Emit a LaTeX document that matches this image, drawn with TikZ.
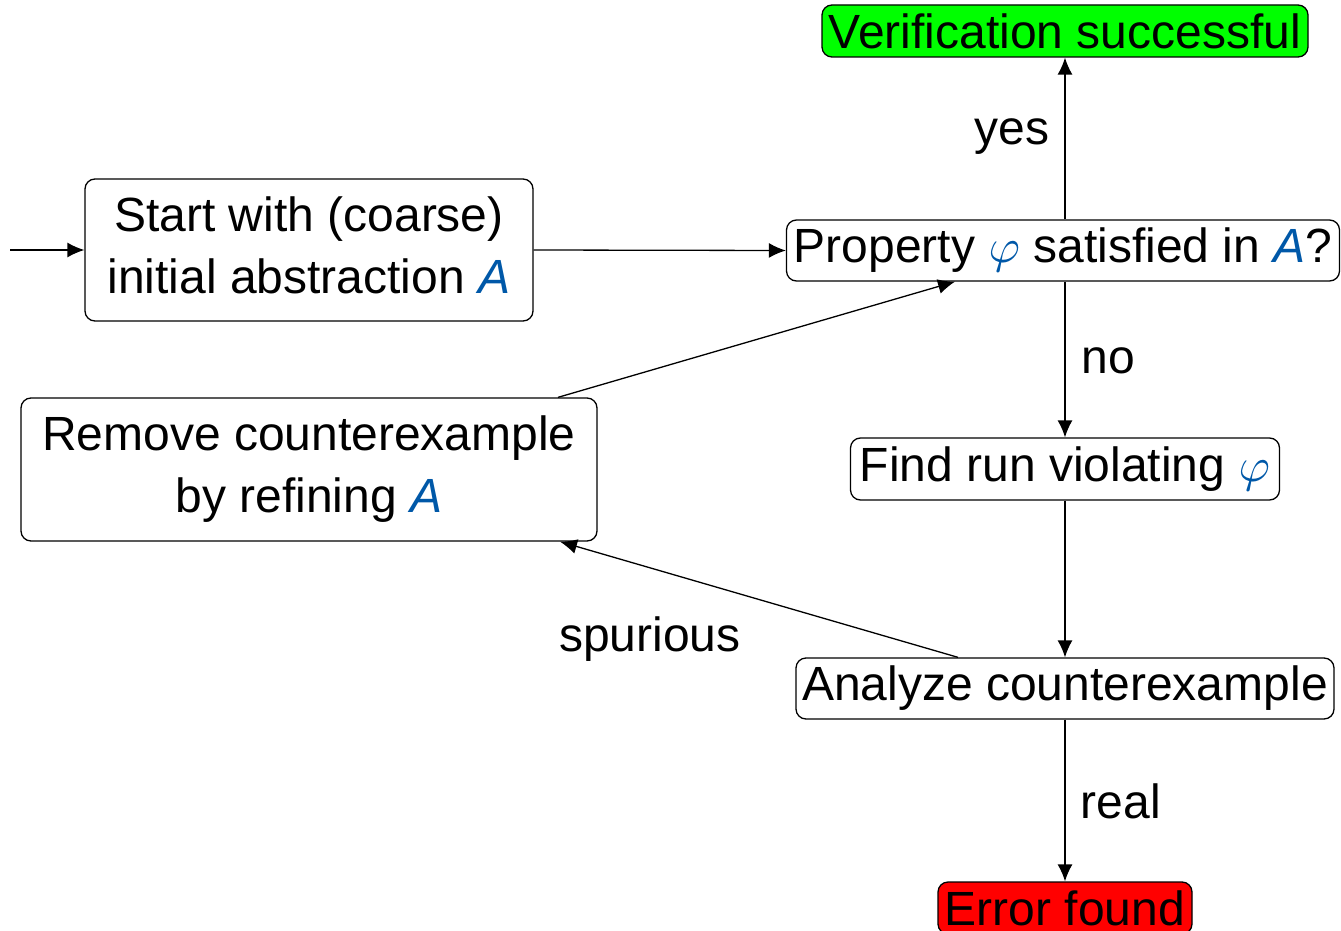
\documentclass[tikz,border=0pt]{standalone}
\usepackage{fontspec}
\setmainfont{Liberation Sans}
\usetikzlibrary{arrows.meta}
\definecolor{myblue}{RGB}{0,88,168}
\definecolor{mygreen}{RGB}{0,255,0}
\definecolor{myred}{RGB}{255,0,0}
\newcommand{\vA}{\textcolor{myblue}{\textit{A}}}
\newcommand{\vphi}{\textcolor{myblue}{{\fontsize{10}{12}\selectfont\scalebox{4.8}{$\varphi$}}}}
\tikzset{
  box/.style={draw, line width=1.3pt, rounded corners=10pt, inner sep=0pt, align=center,
    font=\fontsize{48}{62}\selectfont},
  lbl/.style={inner sep=0pt, font=\fontsize{48}{62}\selectfont},
  conn/.style={line width=1.3pt, -{Latex[length=17pt,width=15pt]}},
}
\begin{document}
\begin{tikzpicture}[x=1pt,y=-1pt]
\useasboundingbox (0,0) rectangle (1341,931);
\node[box, minimum width=448pt, minimum height=142pt] (start) at (309,250) {\raisebox{3pt}{\begin{tabular}{@{}c@{}}Start with (coarse)\\[0pt]initial abstraction \vA\end{tabular}}};
\node[box, minimum width=553pt, minimum height=61pt] (prop) at (1063,250.5) {Property \vphi{} satisfied in \vA?};
\node[box, fill=mygreen, minimum width=486pt, minimum height=52pt] (ver) at (1065,31) {Verification successful};
\node[box, minimum width=429pt, minimum height=62pt] (find) at (1065,469) {Find run violating \vphi};
\node[box, minimum width=576pt, minimum height=143pt] (rem) at (309,469.5) {Remove counterexample\\by refining \vA};
\node[box, minimum width=538pt, minimum height=61pt] (ana) at (1065,688.5) {Analyze counterexample};
\node[box, fill=myred, minimum width=254pt, minimum height=52pt] (err) at (1065,908) {Error found};
\coordinate (in) at (10,250);
\draw[conn] (in) -- (start.west);
\draw[conn] (start.east) -- (prop.west);
\draw[conn] (prop.north -| ver.south) -- (ver.south);
\draw[conn] (prop.south -| find.north) -- (find.north);
\draw[conn] (find) -- (ana);
\draw[conn] (ana) -- (err);
\draw[conn] (ana.north -| 958,0) -- (rem.south -| 560,0);
\draw[conn] (rem.north -| 558,0) -- (prop.south -| 955,0);
\node[lbl] (yes) at (1012,137) {yes};
\node[lbl] (no) at (1108,361) {no};
\node[lbl] (real) at (1121,801) {real};
\node[lbl] (spur) at (650,639) {spurious};
\end{tikzpicture}
\end{document}
